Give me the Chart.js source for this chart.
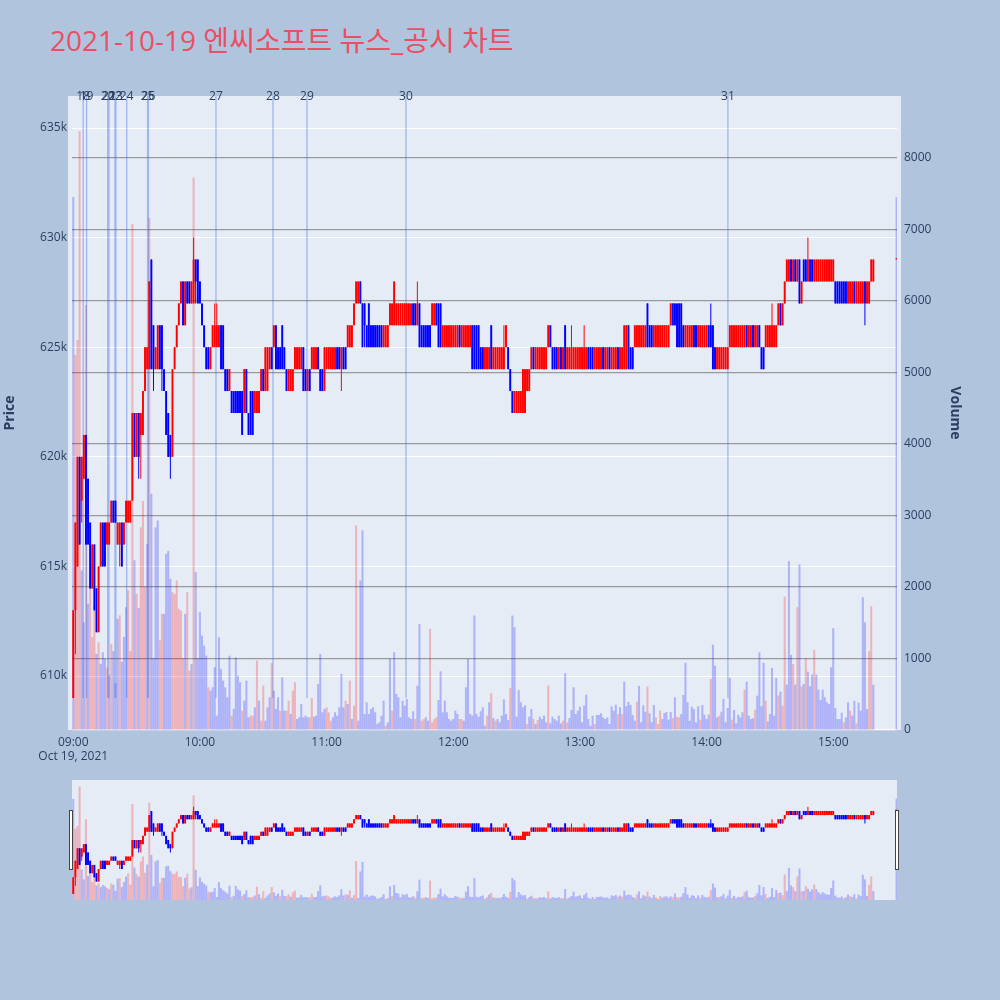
<!DOCTYPE html>
<html lang="ko">
<head>
<meta charset="UTF-8">
<title>2021-10-19 엔씨소프트 뉴스_공시 차트</title>
<script src="https://cdn.jsdelivr.net/npm/chart.js"></script>
<style>
  body {
    margin: 0;
    width: 1000px;
    height: 1000px;
    position: relative;
    overflow: hidden;
    background: #b0c4de;
    font-family: "Open Sans", "Noto Sans CJK KR", sans-serif;
  }
  #title {
    position: absolute;
    left: 50px;
    top: 25px;
    font-size: 28px;
    line-height: 30px;
    color: #eb4f66;
    white-space: nowrap;
  }
  #main { position: absolute; left: 0; top: 0; }
  #slider { position: absolute; left: 72px; top: 780px; background: #e5ecf6; }
  .handle {
    position: absolute;
    top: 810px;
    width: 2px;
    height: 58px;
    background: #fff;
    border: 1px solid #444;
  }
</style>
</head>
<body>
<div id="title">2021-10-19 엔씨소프트 뉴스_공시 차트</div>
<canvas id="main" width="1000" height="1000"></canvas>
<canvas id="slider" width="825" height="120"></canvas>
<div class="handle" style="left:69px"></div>
<div class="handle" style="left:895px"></div>
<script>
// one-minute candles from 09:00 (index = minutes after 09:00), prices in thousand won
const opens = [
  609,613,615,620,618,619,621,619,617,614, 616,614,612,615,617,617,616,616,617,618,
  618,616,616,617,616,617,617,617,618,622, 620,622,621,621,623,624,624,629,626,624,
  624,626,626,624,623,622,621,620,624,625, 626,627,628,626,628,628,627,627,629,629,
  628,627,626,625,625,624,625,625,625,625, 626,626,624,624,623,623,623,623,623,623,
  623,622,624,622,623,623,622,622,622,623, 624,623,623,624,625,625,626,625,625,626,
  625,624,623,623,623,624,624,624,624,625, 624,623,624,624,624,624,625,624,624,623,
  624,624,624,624,624,625,625,624,625,625, 625,625,625,626,627,627,628,627,627,626,
  627,626,626,626,626,626,626,625,625,625, 626,626,626,626,626,626,626,626,626,626,
  626,627,627,626,627,626,626,626,626,626, 626,626,627,627,627,625,625,625,625,625,
  625,625,625,626,625,625,625,625,625,626, 626,626,626,625,625,624,624,624,626,624,
  624,624,624,624,624,625,625,624,623,622, 622,622,622,622,622,623,623,624,625,624,
  624,624,624,624,624,625,626,625,625,625, 624,625,624,626,624,624,624,624,624,624,
  624,624,624,624,625,625,625,624,624,624, 624,625,624,624,625,624,624,624,625,624,
  624,624,624,626,625,625,625,625,625,625, 625,625,627,626,626,625,625,625,625,625,
  625,625,625,626,627,627,627,627,627,626, 625,625,625,625,626,626,625,625,625,625,
  625,626,626,626,625,624,624,624,624,624, 624,625,625,625,625,625,625,625,625,626,
  625,625,626,625,625,626,625,625,625,625, 625,625,625,625,626,627,626,627,628,628,
  629,628,629,628,629,627,629,629,628,629, 629,628,628,628,628,628,628,628,628,628,
  628,628,628,628,628,628,628,627,627,627, 628,627,627,627,627,628,627,627,628,628
];
const highs = [
  613,617,620,620,620,621,621,619,617,616, 616,614,615,617,617,617,617,617,618,618,
  618,617,617,617,617,618,618,618,622,622, 622,622,622,623,625,625,628,629,626,625,
  626,626,626,624,623,622,621,624,625,626, 627,628,628,628,628,628,628,630,629,629,
  628,627,626,625,625,625,626,627,627,626, 626,626,624,624,624,623,623,623,623,623,
  623,624,624,622,623,623,623,623,623,624, 624,625,625,625,625,626,626,625,625,626,
  625,624,624,624,624,625,625,625,625,625, 624,624,624,625,625,625,625,624,624,625,
  625,625,625,625,625,625,625,625,625,625, 626,626,626,627,628,628,628,627,627,626,
  627,626,626,626,626,626,626,626,626,626, 627,627,628,627,627,627,627,627,627,627,
  627,627,627,628,627,626,626,626,626,626, 627,627,627,627,627,626,626,626,626,626,
  626,626,626,626,626,626,626,626,626,626, 626,626,626,625,625,625,625,625,626,625,
  625,625,625,625,626,626,625,624,623,623, 623,623,623,624,624,624,624,625,625,625,
  625,625,625,625,625,626,626,625,625,625, 625,625,625,626,625,625,626,625,625,625,
  625,625,626,625,625,625,625,625,625,625, 625,625,625,625,625,625,625,625,625,625,
  625,626,626,626,625,625,626,626,626,626, 626,626,627,626,626,626,626,626,626,626,
  626,626,626,627,627,627,627,627,627,626, 626,626,626,626,626,626,626,626,626,626,
  626,626,627,626,625,625,625,625,625,625, 625,626,626,626,626,626,626,626,626,626,
  626,626,626,626,626,626,625,625,626,626, 626,627,626,626,627,627,627,628,629,629,
  629,629,629,629,629,628,629,629,630,629, 629,629,629,629,629,629,629,629,629,629,
  629,628,628,628,628,628,628,628,628,628, 628,628,628,628,628,628,628,628,629,629
];
const lows = [
  609,611,615,616,617,619,616,616,614,614, 613,612,612,615,615,615,616,616,617,617,
  617,616,615,615,616,617,617,617,618,620, 620,619,619,621,623,624,624,624,623,624,
  624,624,623,623,621,620,619,620,624,625, 626,627,626,626,627,627,627,627,627,627,
  627,626,625,624,624,624,625,625,625,625, 624,624,623,623,623,622,622,622,622,622,
  621,622,622,621,621,621,622,622,622,623, 623,623,623,624,624,625,624,624,624,624,
  624,623,623,623,623,624,624,624,624,623, 623,623,623,624,624,624,624,623,623,623,
  624,624,624,624,624,624,624,623,624,624, 625,625,625,626,627,627,627,625,625,625,
  625,625,625,625,625,625,625,625,625,625, 626,626,626,626,626,626,626,626,626,626,
  626,626,626,626,625,625,625,625,625,625, 626,626,626,625,625,625,625,625,625,625,
  625,625,625,625,625,625,625,625,625,624, 624,624,624,624,624,624,624,624,624,624,
  624,624,624,624,624,625,624,623,622,622, 622,622,622,622,622,623,623,624,624,624,
  624,624,624,624,624,625,625,624,624,624, 624,624,624,624,624,624,624,624,624,624,
  624,624,624,624,624,624,624,624,624,624, 624,624,624,624,624,624,624,624,624,624,
  624,624,624,624,624,624,625,625,625,625, 625,625,625,625,625,625,625,625,625,625,
  625,625,625,626,626,626,625,625,625,625, 625,625,625,625,625,625,625,625,625,625,
  625,625,625,624,624,624,624,624,624,624, 624,625,625,625,625,625,625,625,625,625,
  625,625,625,625,625,625,624,624,625,625, 625,625,625,625,626,626,626,627,628,628,
  628,628,628,628,627,627,628,628,628,628, 628,628,628,628,628,628,628,628,628,628,
  628,627,627,627,627,627,627,627,627,627, 627,627,627,627,627,626,627,627,628,628
];
const closes = [
  613,617,620,616,620,621,616,616,614,616, 613,612,615,617,615,615,617,617,618,617,
  617,617,617,615,617,618,618,618,622,620, 622,620,622,623,625,625,628,624,624,625,
  626,624,624,623,621,620,620,624,625,626, 627,628,626,628,627,627,628,629,628,627,
  627,626,625,624,624,625,626,626,626,626, 624,624,623,623,624,622,622,622,622,622,
  621,624,622,621,621,621,623,623,623,624, 623,625,625,625,624,626,624,624,624,624,
  624,623,624,624,624,625,625,625,625,623, 623,624,623,625,625,625,624,623,623,625,
  625,625,625,625,625,624,624,625,624,624, 626,626,626,627,628,628,627,625,626,625,
  625,625,625,625,625,625,625,626,626,626, 627,627,628,627,627,627,627,627,627,627,
  627,626,626,627,625,625,625,625,625,625, 627,627,626,625,625,626,626,626,626,626,
  626,626,626,625,626,626,626,626,626,624, 624,624,624,624,624,625,625,625,624,625,
  625,625,625,625,625,626,624,623,622,623, 623,623,623,624,624,624,624,625,624,625,
  625,625,625,625,625,626,625,624,624,624, 625,624,625,624,625,625,625,625,625,625,
  625,625,625,625,624,624,624,625,625,625, 625,624,625,625,624,625,625,625,624,625,
  625,626,626,624,624,624,626,626,626,626, 626,626,625,625,625,626,626,626,626,626,
  626,626,626,627,626,626,625,625,625,625, 626,626,626,626,625,625,626,626,626,626,
  626,625,625,624,624,625,625,625,625,625, 625,626,626,626,626,626,626,626,626,625,
  626,626,625,626,626,625,624,624,626,626, 626,626,626,626,627,626,627,628,629,629,
  628,629,628,629,627,628,628,628,629,628, 628,629,629,629,629,629,629,629,629,629,
  629,627,627,627,627,627,627,628,628,628, 627,628,628,628,628,627,628,628,629,629
];
const volumes = [
  7450,5240,5450,8370,2227,1500,5940,1760,2087,1293, 1736,1060,1223,920,1083,990,870,760,1200,1100,
  650,1550,1600,950,1300,1713,1950,1100,7073,2370, 1900,1700,2830,3200,2000,2600,7157,3300,1000,2830,
  2927,1250,1620,1620,2460,2500,2110,1923,1897,2087, 1690,1667,1000,1620,1923,826,920,7722,2204,1000,
  1643,1316,1176,1036,593,546,593,873,196,1293, 850,686,593,453,1036,196,290,1013,756,663,
  266,406,686,173,196,196,313,966,406,126, 616,126,313,453,933,546,290,453,266,733,
  266,266,406,219,546,663,149,173,359,173, 196,173,173,443,182,196,640,1060,243,290,
  313,243,126,173,243,196,313,780,313,406, 359,686,149,336,2857,126,2087,2787,219,383,
  219,290,313,243,79,103,196,406,56,103, 990,266,1083,500,453,173,406,336,430,173,
  149,257,149,616,1480,126,149,173,126,1410, 103,149,173,415,817,243,406,243,149,126,
  149,266,219,149,149,126,593,990,219,196, 1597,220,180,257,313,56,196,383,509,163,
  126,149,103,196,425,219,135,583,1597,1433, 182,556,383,313,341,79,182,289,149,79,
  135,182,149,196,103,616,89,182,149,126, 196,89,126,789,103,163,275,593,219,266,
  322,103,336,490,149,56,196,79,205,205, 229,172,149,172,79,327,266,350,219,313,
  219,672,327,387,345,205,126,392,612,103, 341,252,602,229,103,345,173,79,266,149,
  233,247,140,247,163,453,182,173,219,486, 934,383,126,322,289,103,327,140,345,210,
  149,210,710,1190,896,173,196,252,430,103, 303,724,140,275,89,210,173,243,560,672,
  196,149,159,280,476,1083,327,934,406,117, 219,864,196,724,476,532,336,1863,630,2358,
  1046,920,630,1713,2311,607,640,1004,812,607, 770,1116,770,560,415,560,453,383,359,873,
  1419,303,149,149,238,103,173,383,266,196, 406,89,378,266,1853,1503,289,1097,1727,630
];
// minutes whose volume bar is drawn in the "up" colour
const upVolumeMinutes = [
  1,2,3,6,8,9,10,12,16,18,22,26,27,28,30,32,33,34,36,41,42,47,48,49,50,51,52,54,55,57,
  64,75,80,84,85,87,89,90,94,98,101,102,104,105,112,113,120,121,122,129,131,133,134,
  148,151,162,165,166,169,170,171,172,183,184,
  196,198,200,207,215,218,220,225,232,234,247,258,260,267,272,276,277,278,284,286,287,
  297,302,306,312,318,323,328,334,336,337,341,343,345,347,351,365,368,371,377,378
];
// closing auction at 15:30
const auctionMinute = 390;
const auctionPrice = 629;
const auctionVolume = 7450;

// news / disclosure markers
const newsIds = [18, 19, 20, 21, 22, 23, 24, 25, 26, 27, 28, 29, 30, 31];
const newsTimes = ['09:04:42', '09:06:18', '09:16:18', '09:16:54', '09:19:45', '09:20:12', '09:25:18',
                   '09:35:12', '09:35:36', '10:07:36', '10:34:36', '10:50:42', '11:37:36', '14:10:06'];

const priceTicks = [610000, 615000, 620000, 625000, 630000, 635000];
const volumeTicks = [0, 1000, 2000, 3000, 4000, 5000, 6000, 7000, 8000];
const timeTicks = [0, 60, 120, 180, 240, 300, 360];

const RED = '#ff0000', BLUE = '#0000ff';
const RED_VOL = 'rgba(255,0,0,0.24)', BLUE_VOL = 'rgba(0,0,255,0.24)';
const TEXT = '#2a3f5f';
const FONT = '"Open Sans", "Noto Sans CJK KR", sans-serif';
Chart.defaults.font.family = FONT;

const upSet = new Set(upVolumeMinutes);
const candles = opens.map((o, i) => ({
  m: i, o: o * 1000, h: highs[i] * 1000, l: lows[i] * 1000, c: closes[i] * 1000,
  v: volumes[i], volUp: upSet.has(i)
}));
candles.push({ m: auctionMinute, o: auctionPrice * 1000, h: auctionPrice * 1000, l: auctionPrice * 1000,
  c: auctionPrice * 1000, v: auctionVolume, volUp: false });

const newsMinutes = newsTimes.map(t => {
  const [h, m, s] = t.split(':').map(Number);
  return (h - 9) * 60 + m + s / 60;
});

function pad(n) { return String(n).padStart(2, '0'); }
function timeLabel(v) { return pad(9 + Math.floor(v / 60)) + ':' + pad(v % 60); }

const upColor = (a, b) => ctx => (ctx.raw && ctx.raw.up ? a : b);

function candleDatasets() {
  return [
    {
      data: candles.map(d => ({ x: d.m, y: [d.o, d.c], up: d.c >= d.o })),
      yAxisID: 'y', order: 0, grouped: false, barThickness: 1.9, minBarLength: 1.5, inflateAmount: 0,
      backgroundColor: upColor(RED, BLUE)
    },
    {
      data: candles.map(d => ({ x: d.m, y: [d.l, d.h], up: d.c >= d.o })),
      yAxisID: 'y', order: 1, grouped: false, barThickness: 1, inflateAmount: 0,
      backgroundColor: upColor(RED, BLUE)
    },
    {
      data: candles.map(d => ({ x: d.m, y: d.v, up: d.volUp })),
      yAxisID: 'yv', order: 3, grouped: false, barThickness: 1.4,
      backgroundColor: upColor(RED_VOL, BLUE_VOL)
    }
  ];
}

const newsData = [];
newsMinutes.forEach(m => { newsData.push({ x: m, y: 609000 }, { x: m, y: 640000 }, { x: m, y: null }); });

const plotBackground = {
  id: 'plotBackground',
  beforeDraw(chart) {
    const { ctx, chartArea: a } = chart;
    ctx.save();
    ctx.fillStyle = '#e5ecf6';
    ctx.fillRect(a.left - 4, a.top, a.right - a.left + 8, a.bottom - a.top);
    ctx.restore();
  }
};

const newsLabels = {
  id: 'newsLabels',
  afterDraw(chart) {
    const { ctx, chartArea, scales } = chart;
    ctx.save();
    ctx.font = '12px ' + FONT;
    ctx.fillStyle = TEXT;
    ctx.textAlign = 'center';
    ctx.textBaseline = 'middle';
    newsMinutes.forEach((m, i) => ctx.fillText(String(newsIds[i]), scales.x.getPixelForValue(m), chartArea.top + 1));
    ctx.restore();
  }
};

const tickFont = { family: FONT, size: 12 };

new Chart(document.getElementById('main'), {
  type: 'bar',
  data: {
    datasets: [
      ...candleDatasets(),
      {
        type: 'line', data: newsData, yAxisID: 'y', order: 2,
        borderColor: 'rgba(65,105,225,0.42)', borderWidth: 1.3, pointRadius: 0, spanGaps: false
      }
    ]
  },
  options: {
    responsive: false,
    animation: false,
    layout: { padding: { top: 96, right: 35, left: 0, bottom: 0 }, autoPadding: false },
    plugins: { legend: { display: false }, tooltip: { enabled: false } },
    scales: {
      x: {
        type: 'linear', min: -0.6, max: 390.2, offset: false,
        afterBuildTicks: s => { s.ticks = timeTicks.map(v => ({ value: v })); },
        afterFit: s => { s.height = 270; },
        grid: { display: false, drawTicks: false },
        border: { display: false },
        ticks: {
          color: TEXT, font: tickFont, padding: 5, maxRotation: 0,
          callback: v => (v === 0 ? [timeLabel(v), 'Oct 19, 2021'] : timeLabel(v))
        }
      },
      y: {
        position: 'left', min: 607540, max: 636460,
        afterBuildTicks: s => { s.ticks = priceTicks.map(v => ({ value: v })); },
        afterFit: s => { s.width = 72; },
        grid: { color: '#ffffff', lineWidth: 1, drawTicks: false },
        border: { display: false },
        ticks: { color: TEXT, font: tickFont, padding: 5, callback: v => v / 1000 + 'k' },
        title: { display: true, text: 'Price', color: TEXT, font: { family: FONT, size: 14, weight: 'bold' }, padding: { top: 2, bottom: 2 } }
      },
      yv: {
        position: 'right', min: 0, max: 8868,
        afterBuildTicks: s => { s.ticks = volumeTicks.map(v => ({ value: v })); },
        afterFit: s => { s.width = 68; },
        grid: {
          drawTicks: false, lineWidth: 1.2,
          color: ctx => (ctx.tick && ctx.tick.value === 0 ? '#ffffff' : 'rgba(100,100,100,0.6)')
        },
        border: { display: false },
        ticks: { color: TEXT, font: tickFont, padding: 7, callback: v => String(v) },
        title: { display: true, text: 'Volume', color: TEXT, font: { family: FONT, size: 14, weight: 'bold' }, padding: { top: 2, bottom: 2 } }
      }
    }
  },
  plugins: [plotBackground, newsLabels]
});

// range slider overview
new Chart(document.getElementById('slider'), {
  type: 'bar',
  data: { datasets: candleDatasets() },
  options: {
    responsive: false,
    animation: false,
    layout: { padding: 0, autoPadding: false },
    plugins: { legend: { display: false }, tooltip: { enabled: false } },
    scales: {
      x: { type: 'linear', min: -0.6, max: 390.2, offset: false, display: false },
      y: { min: 607540, max: 636460, display: false },
      yv: { min: 0, max: 8868, display: false }
    }
  }
});
</script>
</body>
</html>
